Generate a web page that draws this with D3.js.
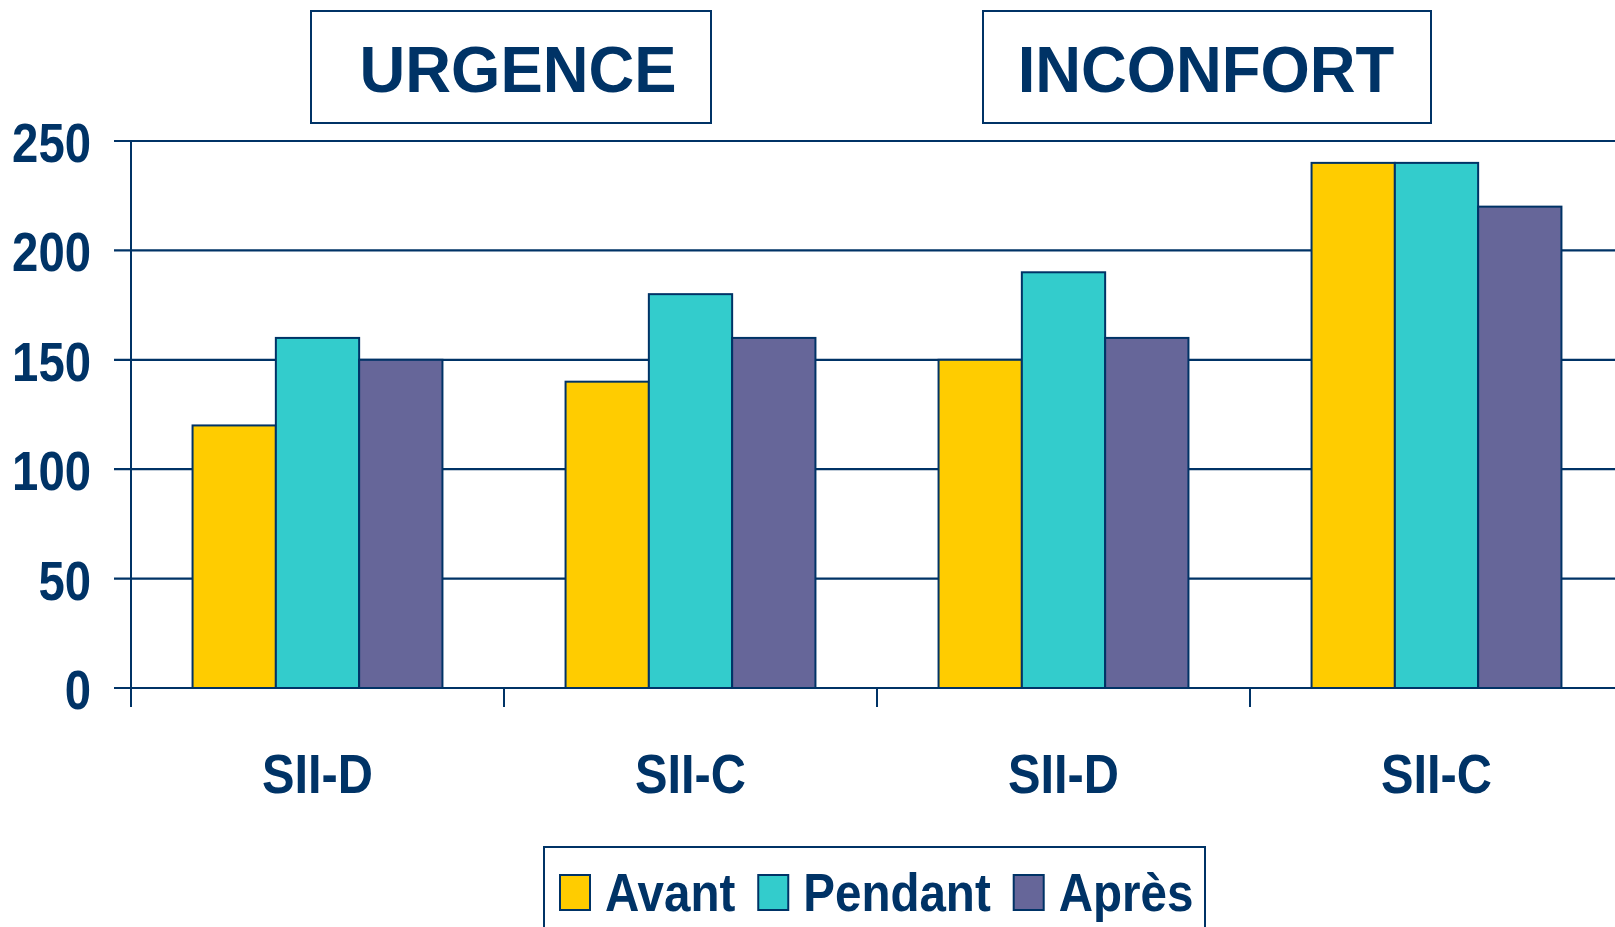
<!DOCTYPE html>
<html><head><meta charset="utf-8">
<script src="https://cdn.jsdelivr.net/npm/d3@7"></script>
<style>html,body{margin:0;padding:0;background:#fff;overflow:hidden}</style>
</head><body>
<svg id="c" width="1615" height="927"></svg>
<script>
const categories = ["SII-D", "SII-C", "SII-D ", "SII-C "];
const categoryLabels = ["SII-D", "SII-C", "SII-D", "SII-C"];
const seriesNames = ["Avant", "Pendant", "Après"];
const avant = [120, 140, 150, 240];
const pendant = [160, 180, 190, 240];
const apres = [150, 160, 160, 220];
const yTicks = [0, 50, 100, 150, 200, 250];
const titles = ["URGENCE", "INCONFORT"];

const navy = "#003366";
const colors = ["#FFCC00", "#33CCCC", "#666699"];
const font = "'Liberation Sans', Arial, sans-serif";
const values = [avant, pendant, apres];

const svg = d3.select("#c");
const y = d3.scaleLinear().domain([0, 250]).range([688, 141]);
const x = d3.scaleBand().domain(categories).range([131, 1623]).padding(0);
const xs = d3.scaleBand().domain(seriesNames).range([0, x.bandwidth()]).paddingInner(0).paddingOuter(0.739);

// gridlines + y ticks
svg.append("g").selectAll("line").data(yTicks).join("line")
  .attr("x1", 114).attr("x2", 1615)
  .attr("y1", d => y(d)).attr("y2", d => y(d))
  .attr("stroke", navy).attr("stroke-width", 2.2);

// y axis line
svg.append("line").attr("x1", 131).attr("x2", 131).attr("y1", y(250)).attr("y2", 707)
  .attr("stroke", navy).attr("stroke-width", 2);
// category ticks
svg.append("g").selectAll("line").data(categories.slice(1)).join("line")
  .attr("x1", d => x(d)).attr("x2", d => x(d)).attr("y1", y(0)).attr("y2", 707)
  .attr("stroke", navy).attr("stroke-width", 2);

// bars
const groups = svg.append("g").selectAll("g").data(categories).join("g")
  .attr("transform", d => `translate(${x(d)},0)`);
groups.selectAll("rect").data((d, i) => seriesNames.map((s, j) => ({s, j, v: values[j][i]}))).join("rect")
  .attr("x", d => xs(d.s)).attr("width", xs.bandwidth())
  .attr("y", d => y(d.v)).attr("height", d => y(0) - y(d.v))
  .attr("fill", d => colors[d.j]).attr("stroke", navy).attr("stroke-width", 2);

// y tick labels
svg.append("g").selectAll("text").data(yTicks).join("text")
  .attr("transform", d => `translate(91,${y(d) + 21}) scale(0.86,1)`)
  .attr("text-anchor", "end").attr("font-family", font).attr("font-weight", "bold")
  .attr("font-size", 55).attr("fill", navy).text(d => d);

// category labels
svg.append("g").selectAll("text").data(categories).join("text")
  .attr("transform", d => `translate(${x(d) + x.bandwidth() / 2},793) scale(0.87,1)`)
  .attr("text-anchor", "middle").attr("font-family", font).attr("font-weight", "bold")
  .attr("font-size", 56).attr("fill", navy).text((d, i) => categoryLabels[i]);

// title boxes
const boxes = [{x0: 311, x1: 711, tx: 518}, {x0: 983, x1: 1431, tx: 1206}];
boxes.forEach((b, i) => {
  svg.append("rect").attr("x", b.x0).attr("y", 11).attr("width", b.x1 - b.x0).attr("height", 112)
    .attr("fill", "#fff").attr("stroke", navy).attr("stroke-width", 2);
  svg.append("text").attr("transform", `translate(${b.tx},92) scale(0.975,1)`)
    .attr("text-anchor", "middle").attr("font-family", font).attr("font-weight", "bold")
    .attr("font-size", 65).attr("fill", navy).text(titles[i]);
});

// legend
svg.append("rect").attr("x", 544).attr("y", 847).attr("width", 661).attr("height", 100)
  .attr("fill", "#fff").attr("stroke", navy).attr("stroke-width", 2);
let lx = 560;
seriesNames.forEach((s, i) => {
  svg.append("rect").attr("x", lx).attr("y", 875).attr("width", 30).attr("height", 35)
    .attr("fill", colors[i]).attr("stroke", navy).attr("stroke-width", 2);
  const t = svg.append("text").attr("transform", `translate(${lx + 45},911) scale(0.88,1)`)
    .attr("font-family", font).attr("font-weight", "bold")
    .attr("font-size", 54).attr("fill", navy).text(s);
  lx += 45 + t.node().getComputedTextLength() * 0.88 + 23;
});
</script>
</body></html>
